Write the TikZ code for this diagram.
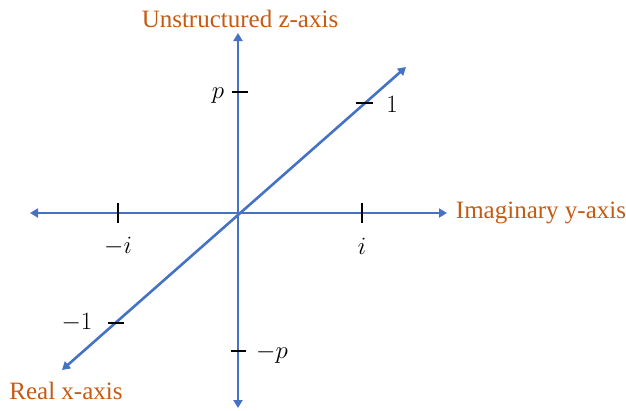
\documentclass[tikz,border=0pt]{standalone}
\usepackage{fontspec}
\setmainfont{Liberation Serif}
\usetikzlibrary{arrows.meta}
\definecolor{axisblue}{HTML}{4472C4}
\definecolor{labelorange}{HTML}{C55A11}
\begin{document}
\begin{tikzpicture}[x=1pt,y=-1pt,
  axisline/.style={draw=axisblue,line width=2.6pt,{Triangle[length=8pt,width=9pt]}-{Triangle[length=8pt,width=9pt]}},
  tickmark/.style={draw=black,line width=2.8pt},
  axislabel/.style={text=labelorange,font=\fontsize{25}{30}\selectfont,inner sep=0pt},
  mlabel/.style={font=\fontsize{24}{28}\selectfont,inner sep=0pt}]
\useasboundingbox (0,0) rectangle (626,410);
% axis end points
\coordinate (O) at (238,213);
\coordinate (zt) at (238,33);
\coordinate (zb) at (238,408);
\coordinate (yl) at (30,213);
\coordinate (yr) at (447,213);
\coordinate (xl) at (62,370);
\coordinate (xr) at (406,67);
% axes
\draw[axisline] (zb) -- (zt);
\draw[axisline] (yl) -- (yr);
\draw[axisline] (xl) -- (xr);
% ticks
\coordinate (tmi1) at (118,203); \coordinate (tmi2) at (118,223);
\coordinate (ti1) at (362,203); \coordinate (ti2) at (362,223);
\coordinate (tp1) at (232,92); \coordinate (tp2) at (248,92);
\coordinate (tmp1) at (231,351); \coordinate (tmp2) at (246,351);
\coordinate (t11) at (356,103); \coordinate (t12) at (373,103);
\coordinate (tm11) at (108,323); \coordinate (tm12) at (124,323);
\draw[tickmark] (tmi1) -- (tmi2);
\draw[tickmark] (ti1) -- (ti2);
\draw[tickmark] (tp1) -- (tp2);
\draw[tickmark] (tmp1) -- (tmp2);
\draw[tickmark] (t11) -- (t12);
\draw[tickmark] (tm11) -- (tm12);
% labels
\node[mlabel] (lp) at (218,96) {$p$};
\node[mlabel] (lmp) at (272,354) {$-p$};
\node[mlabel] (lmi) at (118,246) {$-i$};
\node[mlabel] (li) at (362,246) {$i$};
\node[mlabel] (l1) at (392,104) {$1$};
\node[mlabel] (lm1) at (77,323) {$-1$};
\node[axislabel] (zlab) at (240,19) {Unstructured z-axis};
\node[axislabel] (ylab) at (541,213) {Imaginary y-axis};
\node[axislabel] (xlab) at (66,391) {Real x-axis};
\end{tikzpicture}
\end{document}
